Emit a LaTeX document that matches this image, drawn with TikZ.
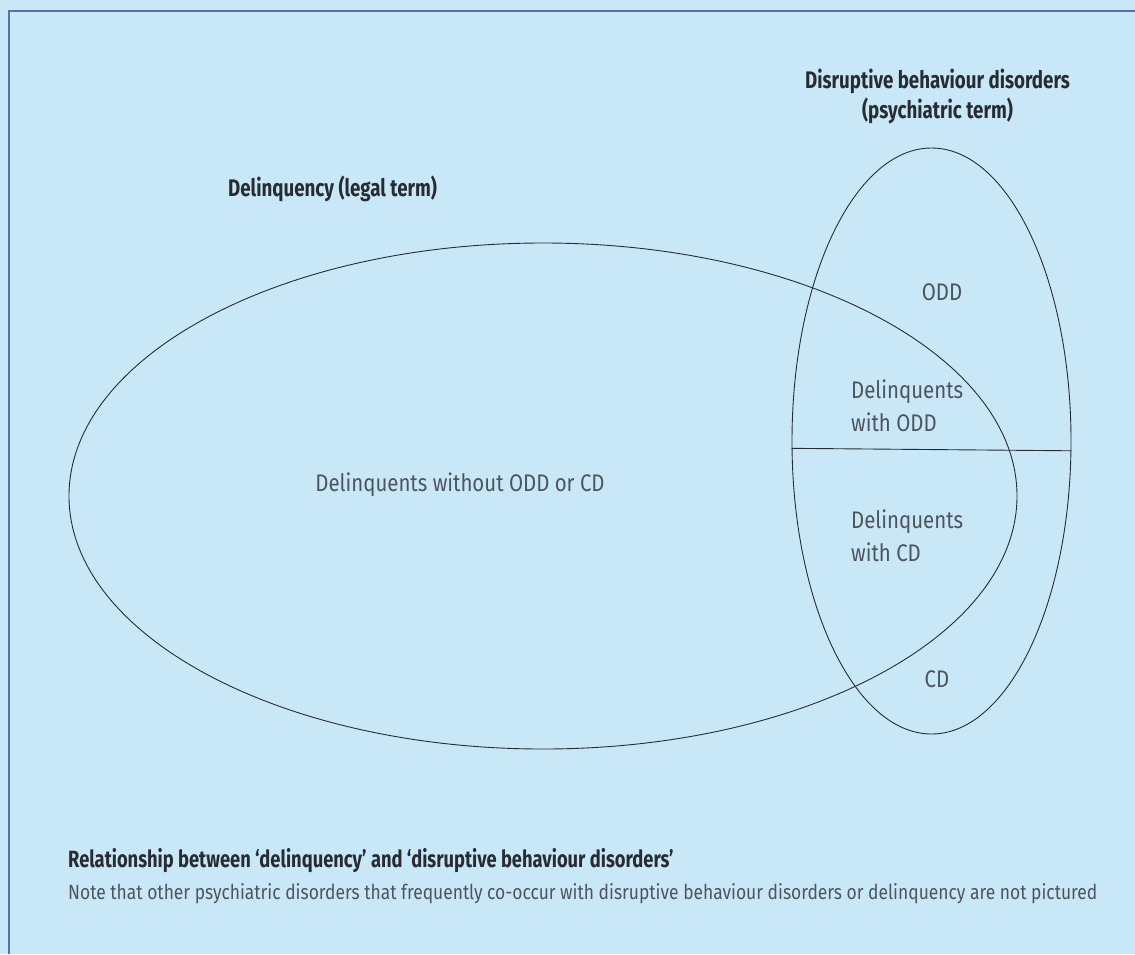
\documentclass[tikz,border=0pt]{standalone}
\usepackage{fontspec}
\setmainfont{Fira Sans}[FakeStretch=0.85, BoldFeatures={FakeStretch=0.78}]
\usetikzlibrary{shapes.geometric}
\definecolor{panel}{RGB}{200,232,248}
\definecolor{frame}{RGB}{90,110,176}
\definecolor{ink}{RGB}{40,44,50}
\definecolor{soft}{RGB}{78,84,92}

\begin{document}
\begin{tikzpicture}[
        x=1pt,
        y=-1pt,
        ring/.style={ellipse, draw=ink, line width=0.9pt, inner sep=0pt},
        lbl/.style={text=soft, inner sep=0pt, font=\fontsize{24}{33}\selectfont},
        heading/.style={text=ink, inner sep=0pt, font=\fontsize{24}{30}\selectfont\bfseries},
        notetext/.style={text=soft, inner sep=0pt, font=\fontsize{20.5}{24}\selectfont}
    ]
        \fill[panel] (0,0) rectangle (1135,954);
        \useasboundingbox (0,0) rectangle (1135,954);
        \draw[frame, line width=2pt] (1135,11) -- (9,11) -- (9,954);

        % the two sets
        \node[ring, minimum width=948pt, minimum height=506pt] (delinq) at (543,496) {};
        \node[ring, minimum width=279pt, minimum height=586pt] (dbd) at (931.5,441) {};
        \draw[ink, line width=0.9pt] (dbd.183.7) -- (dbd.-4.5);

        \node[heading, align=center, anchor=north] (dbdhead) at (937.5,69)
            {Disruptive behaviour disorders\\(psychiatric term)};
        \node[heading, anchor=base west] (delhead) at (228,196) {Delinquency (legal term)};

        \node[lbl, anchor=base] (plain) at (460,491) {Delinquents without ODD or CD};
        \node[lbl] (odd) at (942,292) {ODD};
        \node[lbl, align=left, anchor=north west] (withodd) at (851,380) {Delinquents\\with ODD};
        \node[lbl, align=left, anchor=north west] (withcd) at (851,510) {Delinquents\\with CD};
        \node[lbl] (cd) at (937,679) {CD};

        \node[heading, font=\fontsize{23.5}{28}\selectfont\bfseries, anchor=base west] (title) at (68,867)
            {Relationship between ‘delinquency’ and ‘disruptive behaviour disorders’};
        \node[notetext, anchor=base west] (note) at (68,899)
            {Note that other psychiatric disorders that frequently co-occur with disruptive behaviour disorders or delinquency are not pictured};
    \end{tikzpicture}
\end{document}
